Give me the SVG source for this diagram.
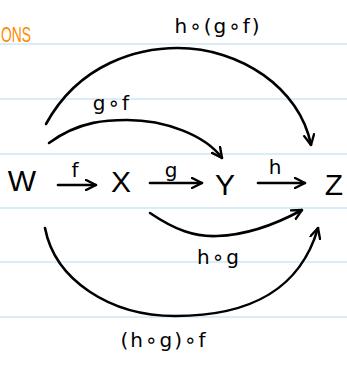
<svg xmlns="http://www.w3.org/2000/svg" width="347" height="365" viewBox="0 0 347 365">
<defs>
<style>
.rule{stroke:#cfe6f7;stroke-width:1.5}
.edge{fill:none;stroke:#000;stroke-width:2.6;stroke-linecap:round;stroke-linejoin:round}
.node{font-family:"Liberation Sans","DejaVu Sans",sans-serif;font-size:30px;fill:#000;text-anchor:middle}
.lbl{font-family:"DejaVu Sans","Liberation Sans",sans-serif;font-size:20px;fill:#000;text-anchor:middle;letter-spacing:2px}
</style>
<marker id="ah" viewBox="0 0 12 12" refX="11" refY="6" markerWidth="12" markerHeight="12" markerUnits="userSpaceOnUse" orient="auto">
<path d="M1,1 L11,6 L1,11" fill="none" stroke="#000" stroke-width="2.4" stroke-linecap="round" stroke-linejoin="round"/>
</marker>
</defs>
<rect width="347" height="365" fill="#fff"/>
<g id="rules">
<line class="rule" x1="0" y1="44" x2="347" y2="44"/>
<line class="rule" x1="0" y1="99" x2="347" y2="99"/>
<line class="rule" x1="0" y1="154" x2="347" y2="154"/>
<line class="rule" x1="0" y1="208" x2="347" y2="208"/>
<line class="rule" x1="0" y1="262" x2="347" y2="262"/>
<line class="rule" x1="0" y1="317" x2="347" y2="317"/>
</g>
<text x="1" y="42" font-family="Liberation Sans, sans-serif" font-size="22" fill="#ff8a00" textLength="30" lengthAdjust="spacingAndGlyphs">ONS</text>
<g id="connectors">
<path class="edge" marker-end="url(#ah)" d="M58,185 L96,185"/>
<path class="edge" marker-end="url(#ah)" d="M150,183 L202,183"/>
<path class="edge" marker-end="url(#ah)" d="M258,183 L305,183"/>
<path class="edge" marker-end="url(#ah)" d="M49,143 C80,120 110,120 127,120 C165,120 205,135 222,158"/>
<path class="edge" marker-end="url(#ah)" d="M46,124 C80,62 140,48 178,48 C240,48 300,88 311,145"/>
<path class="edge" marker-end="url(#ah)" d="M150,213 C175,230 195,237 217,236 C250,235 280,222 302,210"/>
<path class="edge" marker-end="url(#ah)" d="M45,228 C55,280 110,316 175,316 C250,316 300,290 318,228"/>
<text class="lbl" x="76" y="177">f</text>
<text class="lbl" x="172" y="177">g</text>
<text class="lbl" x="276" y="174">h</text>
<text class="lbl" x="112" y="110">g∘f</text>
<text class="lbl" x="218" y="33" font-size="24">h∘(g∘f)</text>
<text class="lbl" x="219" y="264" font-size="21">h∘g</text>
<text class="lbl" x="164" y="347" font-size="24">(h∘g)∘f</text>
</g>
<g id="node-W"><text class="node" x="22" y="191">W</text></g>
<g id="node-X"><text class="node" x="121" y="192">X</text></g>
<g id="node-Y"><text class="node" x="225" y="195">Y</text></g>
<g id="node-Z"><text class="node" x="334" y="195">Z</text></g>
</svg>
